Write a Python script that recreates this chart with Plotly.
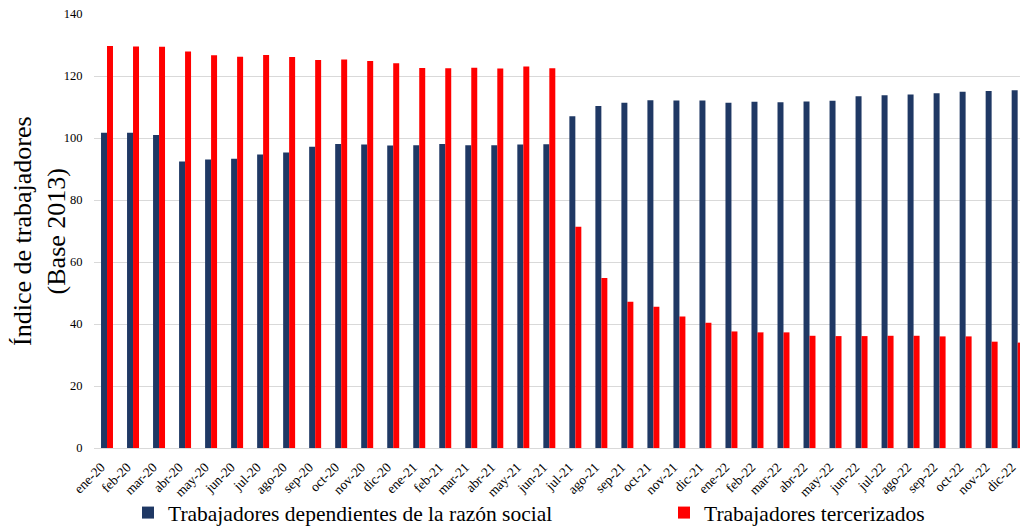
import plotly.graph_objects as go

meses = [
    "ene-20", "feb-20", "mar-20", "abr-20", "may-20", "jun-20",
    "jul-20", "ago-20", "sep-20", "oct-20", "nov-20", "dic-20",
    "ene-21", "feb-21", "mar-21", "abr-21", "may-21", "jun-21",
    "jul-21", "ago-21", "sep-21", "oct-21", "nov-21", "dic-21",
    "ene-22", "feb-22", "mar-22", "abr-22", "may-22", "jun-22",
    "jul-22", "ago-22", "sep-22", "oct-22", "nov-22", "dic-22",
]

dependientes = [
    101.7, 101.7, 101.0, 92.4, 93.1, 93.3,
    94.7, 95.3, 97.2, 98.1, 97.9, 97.6,
    97.7, 98.1, 97.7, 97.7, 97.9, 98.0,
    107.0, 110.3, 111.4, 112.2, 112.1, 112.1,
    111.4, 111.7, 111.5, 111.8, 112.0, 113.5,
    113.8, 114.0, 114.4, 114.9, 115.2, 115.4,
]

tercerizados = [
    129.7, 129.5, 129.4, 127.9, 126.7, 126.2,
    126.8, 126.1, 125.2, 125.3, 124.8, 124.1,
    122.6, 122.5, 122.7, 122.4, 123.1, 122.5,
    71.4, 54.8, 47.2, 45.6, 42.4, 40.4,
    37.6, 37.3, 37.3, 36.2, 36.1, 36.1,
    36.2, 36.2, 36.0, 36.0, 34.3, 34.0,
]

y_ticks = [0, 20, 40, 60, 80, 100, 120, 140]

SERIF = "Liberation Serif"
AZUL = "#1F3864"
ROJO = "#FF0000"

fig = go.Figure()
fig.add_trace(go.Bar(
    x=meses, y=dependientes,
    name="Trabajadores dependientes de la razón social",
    marker=dict(color=AZUL, line=dict(width=0)),
    legend="legend",
))
fig.add_trace(go.Bar(
    x=meses, y=tercerizados,
    name="Trabajadores tercerizados",
    marker=dict(color=ROJO, line=dict(width=0)),
    legend="legend2",
))

legend_common = dict(
    orientation="h", xanchor="left", xref="container",
    y=0.031, yanchor="middle", yref="container",
    font=dict(family=SERIF, size=21.5, color="#000000"),
    itemwidth=30, bgcolor="rgba(0,0,0,0)", borderwidth=0,
)

fig.update_layout(
    width=1020, height=529,
    margin=dict(l=94, r=0, t=14, b=81, autoexpand=False),
    paper_bgcolor="white", plot_bgcolor="white",
    barmode="group", bargap=0.54, bargroupgap=0,
    font=dict(family=SERIF, color="#000000"),
    showlegend=True,
    legend=dict(legend_common, x=128 / 1020),
    legend2=dict(legend_common, x=664 / 1020),
    xaxis=dict(
        type="category", range=[-0.5, 35.09],
        tickangle=-45, tickfont=dict(family=SERIF, size=13.5, color="#000000"),
        showgrid=False, showline=False, zeroline=False,
        ticks="outside", ticklen=5, tickcolor="rgba(0,0,0,0)",
        ticklabelshift=-6,
    ),
    yaxis=dict(
        range=[0, 140], tickvals=y_ticks,
        tickfont=dict(family=SERIF, size=12.5, color="#000000"),
        showgrid=True, gridcolor="#D9D9D9", gridwidth=1,
        zeroline=True, zerolinecolor="#D9D9D9", zerolinewidth=1,
        showline=False, ticks="outside", ticklen=8, tickcolor="rgba(0,0,0,0)",
    ),
    annotations=[dict(
        text="Índice de trabajadores<br>(Base 2013)",
        xref="paper", yref="paper", x=0, y=0.5,
        xshift=-55, xanchor="center", yanchor="middle",
        textangle=-90, showarrow=False,
        font=dict(family=SERIF, size=26, color="#000000"),
    )],
)

fig.write_html("out.html")
